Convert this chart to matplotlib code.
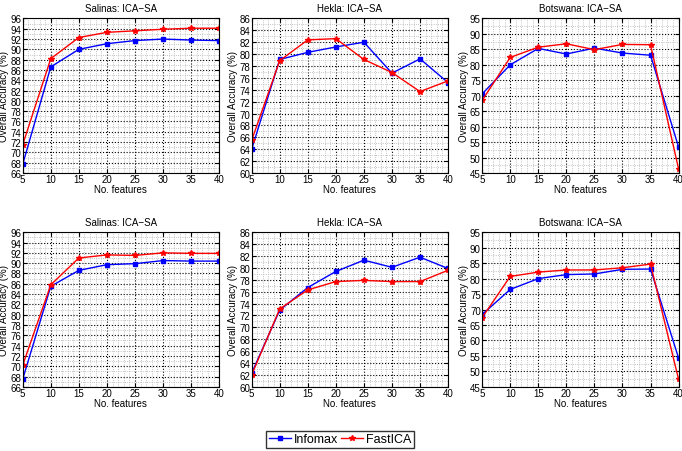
import numpy as np
import matplotlib.pyplot as plt
from matplotlib.ticker import MultipleLocator

plt.rcParams['font.family'] = ['Liberation Sans', 'DejaVu Sans']
plt.rcParams['font.size'] = 7

features = [5, 10, 15, 20, 25, 30, 35, 40]

# top row
sal_top_infomax = [67.7, 86.6, 90.0, 91.1, 91.7, 92.0, 91.8, 91.7]
sal_top_fastica = [71.5, 88.2, 92.3, 93.3, 93.6, 93.9, 94.1, 94.1]
hek_top_infomax = [64.0, 79.1, 80.3, 81.2, 82.0, 76.8, 79.2, 75.2]
hek_top_fastica = [65.5, 78.9, 82.4, 82.6, 79.1, 76.9, 73.7, 75.5]
bot_top_infomax = [70.6, 80.0, 85.3, 83.5, 85.4, 83.8, 83.1, 53.4]
bot_top_fastica = [68.5, 82.4, 85.7, 86.8, 84.9, 86.6, 86.5, 46.3]

# bottom row
sal_bot_infomax = [67.5, 85.5, 88.6, 89.7, 89.9, 90.5, 90.4, 90.4]
sal_bot_fastica = [70.2, 85.8, 91.0, 91.6, 91.5, 92.0, 91.9, 91.9]
hek_bot_infomax = [62.3, 72.9, 76.7, 79.4, 81.3, 80.1, 81.8, 79.9]
hek_bot_fastica = [62.0, 73.1, 76.3, 77.7, 77.9, 77.7, 77.7, 79.6]
bot_bot_infomax = [68.4, 76.5, 80.0, 81.3, 81.5, 83.0, 83.1, 54.3]
bot_bot_fastica = [67.4, 80.7, 82.1, 82.8, 82.8, 83.5, 84.7, 47.4]

titles = ['Salinas: ICA\u2212SA', 'Hekla: ICA\u2212SA', 'Botswana: ICA\u2212SA']
ylims = [(66, 96, 2), (60, 86, 2), (45, 95, 5)]

panels = [
    [(sal_top_infomax, sal_top_fastica), (hek_top_infomax, hek_top_fastica), (bot_top_infomax, bot_top_fastica)],
    [(sal_bot_infomax, sal_bot_fastica), (hek_bot_infomax, hek_bot_fastica), (bot_bot_infomax, bot_bot_fastica)],
]

fig = plt.figure(figsize=(6.82, 4.52), dpi=100)

lefts = [0.0333, 0.369, 0.707]
bottoms = [0.615, 0.142]
w, h = 0.288, 0.342

for r in range(2):
    for c in range(3):
        ax = fig.add_axes([lefts[c], bottoms[r], w, h])
        inf, fast = panels[r][c]
        l1, = ax.plot(features, inf, '-s', color='#0000ff', lw=1, ms=2.5, label='Infomax')
        l2, = ax.plot(features, fast, '-*', color='#ff0000', lw=1, ms=4, label='FastICA')
        lo, hi, step = ylims[c]
        ax.set_xlim(5, 40)
        ax.set_ylim(lo, hi)
        ax.xaxis.set_major_locator(MultipleLocator(5))
        ax.xaxis.set_minor_locator(MultipleLocator(1))
        ax.yaxis.set_major_locator(MultipleLocator(step))
        ax.yaxis.set_minor_locator(MultipleLocator(step / 2))
        ax.grid(True, which='major', color='black', linestyle=':', lw=0.8)
        ax.grid(True, which='minor', color='#b0b0b0', linestyle=':', lw=0.6)
        ax.set_axisbelow(True)
        ax.tick_params(which='both', direction='in', top=True, right=True, pad=1)
        ax.tick_params(which='major', length=3)
        ax.tick_params(which='minor', length=0)
        for s in ax.spines.values():
            s.set_linewidth(0.8)
        ax.set_title(titles[c], fontsize=7, pad=5)
        ax.set_xlabel('No. features', labelpad=0)
        ax.set_ylabel('Overall Accuracy (%)', labelpad=1)

fig.legend([l1, l2], ['Infomax', 'FastICA'], loc='center', ncol=2,
           bbox_to_anchor=(340 / 682, 1 - 440 / 452), fontsize=9,
           frameon=True, fancybox=False, edgecolor='black', handlelength=1.8,
           handletextpad=0.2, columnspacing=0.2, borderpad=0.2)

fig.savefig('out.png', dpi=100)
